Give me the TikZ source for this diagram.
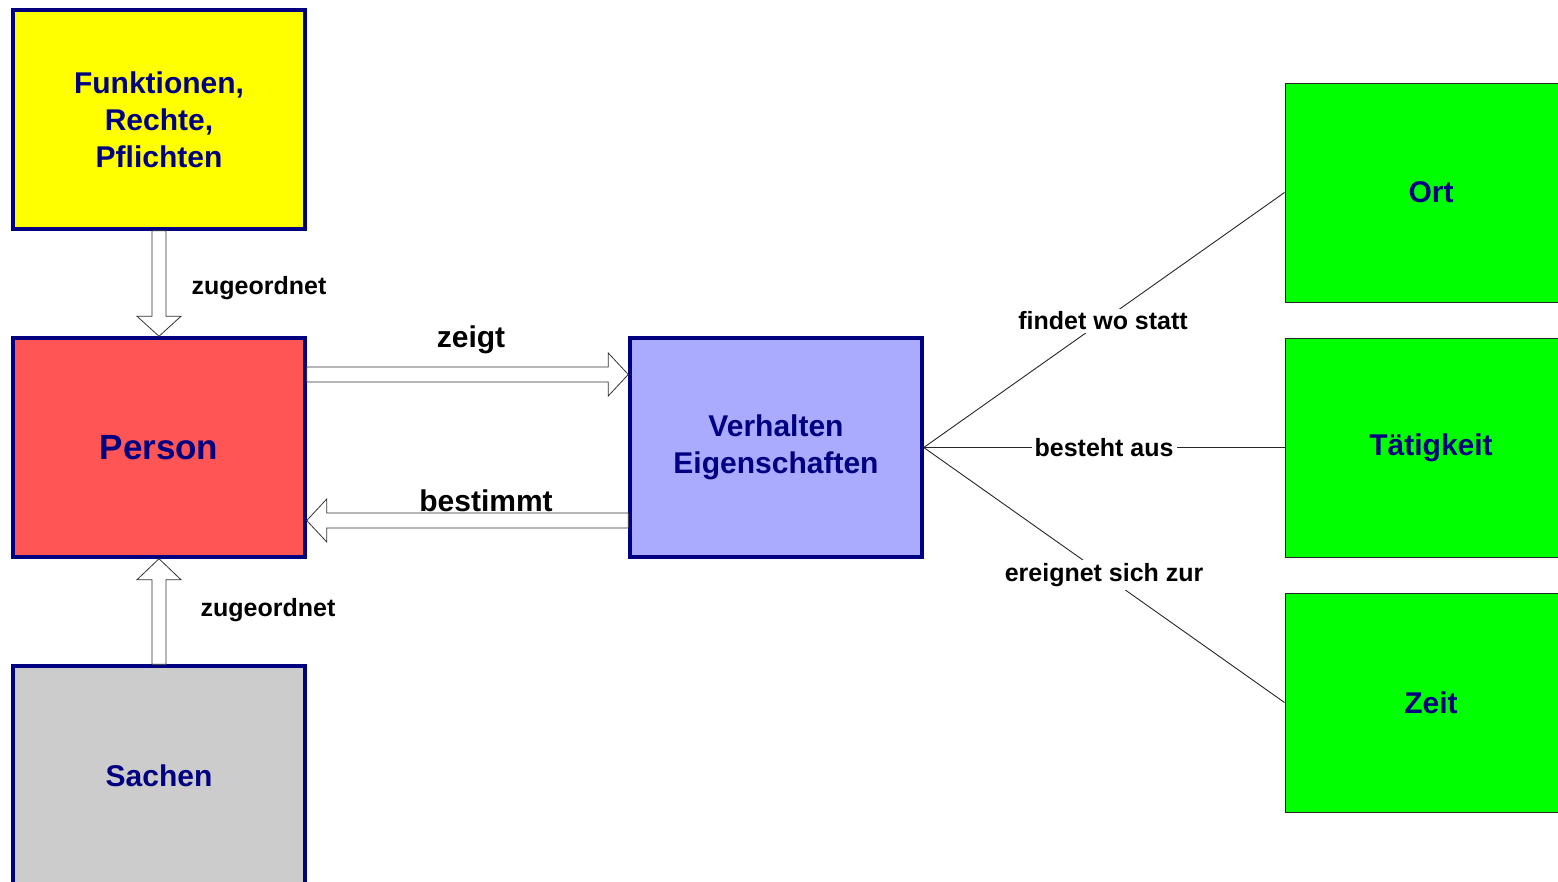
\documentclass[tikz,border=0pt]{standalone}
\usepackage{xcolor}
\usepackage{fontspec}
\setmainfont{Liberation Sans}
\usetikzlibrary{calc, positioning}

\definecolor{boxnavy}{RGB}{0,0,128}
\definecolor{funkyellow}{RGB}{255,255,0}
\definecolor{personred}{RGB}{255,85,85}
\definecolor{sachgray}{RGB}{204,204,204}
\definecolor{verhblue}{RGB}{170,170,255}
\definecolor{leafgreen}{RGB}{0,255,0}

\begin{document}
\begin{tikzpicture}[x=1pt,y=-1pt,
      main box/.style={rectangle,draw=boxnavy,line width=3.5pt,minimum width=292pt,
        minimum height=219pt,align=center,text=boxnavy,font=\fontsize{30}{37}\bfseries},
      leaf box/.style={rectangle,draw=black!85,line width=1pt,fill=leafgreen,minimum width=292pt,
        minimum height=219pt,align=center,text=boxnavy,font=\fontsize{30}{37}\bfseries},
      block arrow/.style={draw=black!80,line width=0.8pt,fill=white},
      small label/.style={font=\fontsize{25}{30}\bfseries},
      big label/.style={font=\fontsize{30}{36}\bfseries},
      fan label/.style={font=\fontsize{25}{30}\bfseries,fill=white,inner sep=3pt}]

    \useasboundingbox (0,0) rectangle (1558,881);

    \node[main box,fill=funkyellow] (funk) at (159,119.5) {Funktionen,\\Rechte,\\Pflichten};
    \node[main box,fill=personred,font=\fontsize{35}{42}\bfseries] (person) at (159,447.5) {Person};
    \node[main box,fill=sachgray] (sachen) at (159,775.5) {Sachen};
    \node[main box,fill=verhblue] (verh) at (776,447.5) {Verhalten\\Eigenschaften};

    \node[leaf box] (ort) at (1431,192.5) {Ort};
    \node[leaf box] (taet) at (1431,447.5) {T\"atigkeit};
    \node[leaf box] (zeit) at (1431,702.5) {Zeit};

    % block arrows
    \draw[block arrow] ($(funk.south)+(-7,0)$) -- ($(person.north)+(-7,-20)$)
        -- ($(person.north)+(-22,-20)$) -- (person.north) -- ($(person.north)+(22,-20)$)
        -- ($(person.north)+(7,-20)$) -- ($(funk.south)+(7,0)$) -- cycle;
    \draw[block arrow] ($(sachen.north)+(-7,0)$) -- ($(person.south)+(-7,21)$)
        -- ($(person.south)+(-22,21)$) -- (person.south) -- ($(person.south)+(22,21)$)
        -- ($(person.south)+(7,21)$) -- ($(sachen.north)+(7,0)$) -- cycle;
    \draw[block arrow] ($(person.east)+(0,-80.5)$) -- ($(verh.west)+(-20,-80.5)$)
        -- ($(verh.west)+(-20,-94.5)$) -- ($(verh.west)+(0,-73)$) -- ($(verh.west)+(-20,-51.5)$)
        -- ($(verh.west)+(-20,-65.5)$) -- ($(person.east)+(0,-65.5)$) -- cycle;
    \draw[block arrow] ($(verh.west)+(0,65.5)$) -- ($(person.east)+(20,65.5)$)
        -- ($(person.east)+(20,51.5)$) -- ($(person.east)+(0,73)$) -- ($(person.east)+(20,94.5)$)
        -- ($(person.east)+(20,80.5)$) -- ($(verh.west)+(0,80.5)$) -- cycle;

    \node[small label] (zug1) at (259,288) {zugeordnet};
    \node[small label] (zug2) at (268,610) {zugeordnet};
    \node[big label] (zeigt) at (471,340) {zeigt};
    \node[big label] (best) at (486,501) {bestimmt};

    % relations to the right
    \path[draw=black!85,line width=0.9pt]
        (verh.east) edge node[fan label,pos=0.497] {findet wo statt} (ort.west)
        (verh.east) edge node[fan label] {besteht aus} (taet.west)
        (verh.east) edge node[fan label,pos=0.5] {ereignet sich zur} (zeit.west)
    ;
\end{tikzpicture}
\end{document}
